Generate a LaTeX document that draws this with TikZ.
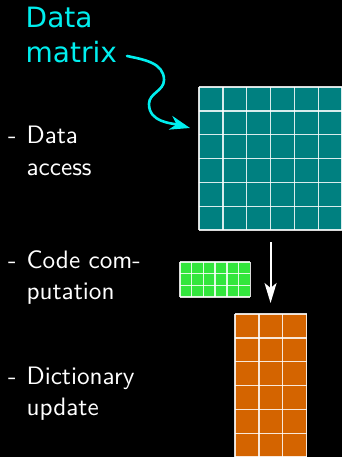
\documentclass[tikz,border=0pt]{standalone}
\usepackage{fontspec}
\setsansfont{lmsans10-regular}[Extension=.otf]
\newfontfamily\calloutfont{DejaVu Sans}
\usetikzlibrary{arrows.meta,calc}

\definecolor{matteal}{RGB}{0,128,128}
\definecolor{codegreen}{RGB}{50,230,60}
\definecolor{dictorange}{RGB}{212,100,0}
\definecolor{callout}{RGB}{0,238,238}

% a bullet line "- first" with its continuation indented under the text
\newcommand\steptext[2]{\begin{tabular}[t]{@{}l@{\hspace{10pt}}l@{}}-&#1\\&#2\end{tabular}}

% white cell lines over a filled block: node, columns, rows, cell size
\newcommand\cellgrid[4]{%
  \foreach \c in {0,...,#2}
    \draw[gridline] ($(#1.north west)+(\c*#4,0)$) -- ++(0,-#3*#4);
  \foreach \r in {0,...,#3}
    \draw[gridline] ($(#1.north west)+(0,-\r*#4)$) -- ++(#2*#4,0);
}

\tikzset{
  steplabel/.style={anchor=base west, inner sep=0pt, text=white,
    font=\sffamily\fontsize{25.2}{31.8}\selectfont},
  cellblock/.style={anchor=north west, inner sep=0pt, outer sep=0pt, draw=none},
  gridline/.style={draw=white, line width=1.4pt, opacity=0.85},
}

\begin{document}
\begin{tikzpicture}[x=1pt,y=1pt]
  \fill[black] (0,0) rectangle (342,-457);
  \useasboundingbox (0,0) rectangle (342,-457);

  % step labels on the left
  \node[steplabel] (access)  at (8,-144) {\steptext{Data}{access}};
  \node[steplabel] (compute) at (8,-268) {\steptext{Code com-}{putation}};
  \node[steplabel] (update)  at (8,-384) {\steptext{Dictionary}{update}};

  % data matrix, codes and dictionary blocks
  \node[cellblock, fill=matteal, minimum width=143.1pt, minimum height=143.1pt]
    (teal) at (199,-87) {};
  \cellgrid{teal}{6}{6}{23.85}

  \node[cellblock, fill=codegreen, minimum width=70.2pt, minimum height=35.1pt]
    (codes) at (180,-262) {};
  \cellgrid{codes}{6}{3}{11.7}

  \node[cellblock, fill=dictorange, minimum width=71.55pt, minimum height=143.1pt]
    (dict) at (235,-314) {};
  \cellgrid{dict}{3}{6}{23.85}

  % arrow from the data matrix down to the dictionary
  \draw[white, line width=2pt, -{Stealth[length=20pt,width=12pt,inset=5pt]},
        shorten <=12pt, shorten >=11pt]
    (teal.south) -- (teal.south |- dict.north);

  % callout title with its wavy arrow
  \node[anchor=base west, inner sep=0pt, text=callout,
        font=\calloutfont\fontsize{28}{35}\selectfont] (dm) at (25.5,-28)
    {\begin{tabular}[t]{@{}l@{}}Data\\matrix\end{tabular}};
  \coordinate (snakestart) at (127,-56);
  \coordinate (snaketip) at (190,-128);
  \draw[callout, line width=2.6pt, line cap=round,
        -{Stealth[length=20pt,width=14pt,inset=6pt]}]
    (snakestart) to[out=-12,in=90] (164,-80)
                 to[out=-90,in=90] (149,-104)
                 to[out=-90,in=165] (snaketip);
\end{tikzpicture}
\end{document}
